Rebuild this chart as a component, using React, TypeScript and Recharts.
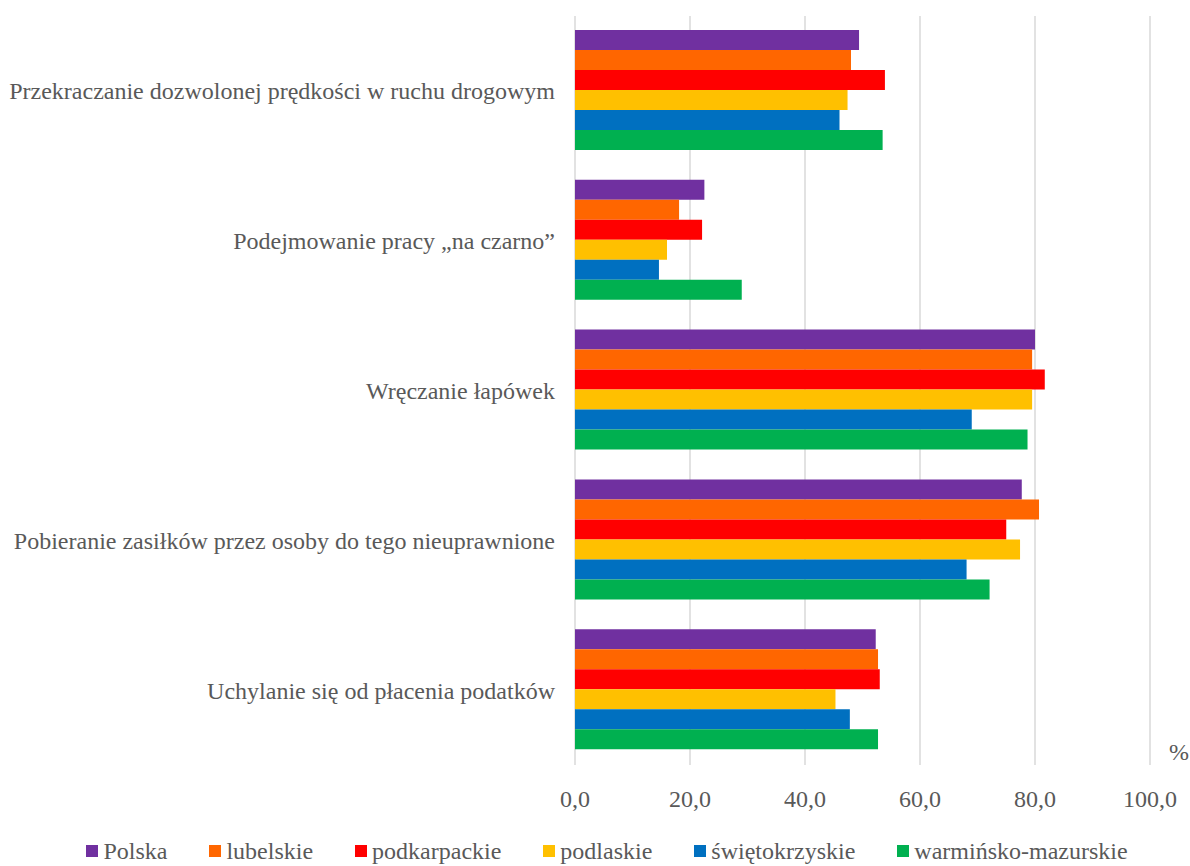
import React from 'react';
import { BarChart, Bar, XAxis, YAxis, CartesianGrid, Legend } from 'recharts';

const categories = [
  'Przekraczanie dozwolonej prędkości w ruchu drogowym',
  'Podejmowanie pracy „na czarno”',
  'Wręczanie łapówek',
  'Pobieranie zasiłków przez osoby do tego nieuprawnione',
  'Uchylanie się od płacenia podatków',
];

const polska = [49.4, 22.5, 80.0, 77.7, 52.3];
const lubelskie = [48.0, 18.1, 79.5, 80.7, 52.7];
const podkarpackie = [53.9, 22.1, 81.7, 75.0, 53.0];
const podlaskie = [47.4, 16.0, 79.5, 77.4, 45.3];
const swietokrzyskie = [46.0, 14.6, 69.0, 68.1, 47.8];
const warminskoMazurskie = [53.5, 29.0, 78.7, 72.1, 52.7];

const xTicks = [0, 20, 40, 60, 80, 100];

const series = [
  { key: 'polska', name: 'Polska', color: '#7030A0', values: polska },
  { key: 'lubelskie', name: 'lubelskie', color: '#FF6600', values: lubelskie },
  { key: 'podkarpackie', name: 'podkarpackie', color: '#FF0000', values: podkarpackie },
  { key: 'podlaskie', name: 'podlaskie', color: '#FFC000', values: podlaskie },
  { key: 'swietokrzyskie', name: 'świętokrzyskie', color: '#0070C0', values: swietokrzyskie },
  { key: 'warminsko', name: 'warmińsko-mazurskie', color: '#00B050', values: warminskoMazurskie },
];

const data = categories.map((name, i) => {
  const row: Record<string, string | number> = { name };
  series.forEach((s) => {
    row[s.key] = s.values[i];
  });
  return row;
});

const FONT = 'Liberation Serif';
const TEXT = '#595959';

// legend drawn in series order (recharts 3 sorts payload by default)
const renderLegend = () => (
  <div
    style={{
      display: 'flex',
      justifyContent: 'center',
      alignItems: 'center',
      height: 30,
      fontFamily: FONT,
      fontSize: 24,
      color: TEXT,
      paddingLeft: 64,
    }}
  >
    {series.map((s, i) => (
      <div
        key={s.key}
        style={{ display: 'flex', alignItems: 'center', marginRight: i < series.length - 1 ? 42 : 0 }}
      >
        <span style={{ width: 12, height: 12, background: s.color, marginRight: 5, display: 'inline-block' }} />
        <span>{s.name}</span>
      </div>
    ))}
  </div>
);

const PercentLabel = (props: any) => {
  const vb = props.viewBox || {};
  return (
    <text
      x={vb.x + vb.width + 29}
      y={vb.y - 13}
      textAnchor="middle"
      dy="0.35em"
      fill={TEXT}
      fontSize={24}
      fontFamily={FONT}
    >
      %
    </text>
  );
};

const App: React.FC = () => {
  return (
    <div style={{ position: 'absolute', left: 0, top: 0, fontFamily: FONT, background: '#fff' }}>
      <BarChart
        width={1190}
        height={866}
        data={data}
        layout="vertical"
        margin={{ top: 16, right: 40, left: 0, bottom: 0 }}
        barCategoryGap={14}
        barGap={0}
      >
        <CartesianGrid horizontal={false} stroke="#d9d9d9" strokeWidth={1.5} />
        <XAxis
          type="number"
          domain={[0, 100]}
          ticks={xTicks}
          tickFormatter={(v: number) => v.toFixed(1).replace('.', ',')}
          axisLine={false}
          tickLine={false}
          tickSize={0}
          tickMargin={25}
          height={71}
          tick={{ fill: TEXT, fontSize: 24, fontFamily: FONT }}
          label={<PercentLabel />}
        />
        <YAxis
          type="category"
          dataKey="name"
          width={575}
          axisLine={false}
          tickLine={false}
          tickSize={0}
          tickMargin={20}
          interval={0}
          tick={{ fill: TEXT, fontSize: 24, fontFamily: FONT }}
        />
        <Legend verticalAlign="bottom" content={renderLegend} />
        {series.map((s) => (
          <Bar key={s.key} dataKey={s.key} name={s.name} fill={s.color} isAnimationActive={false} />
        ))}
      </BarChart>
    </div>
  );
};

export default App;
